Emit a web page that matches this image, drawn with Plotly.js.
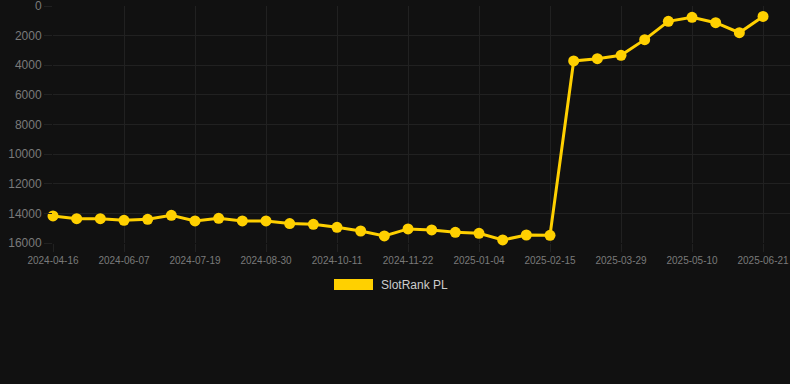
<!DOCTYPE html>
<html>
<head>
<meta charset="utf-8">
<script src="https://cdn.plot.ly/plotly-3.0.1.min.js"></script>
<style>
html,body{margin:0;padding:0;background:#111111;}
#chart{width:790px;height:384px;}
</style>
</head>
<body>
<div id="chart"></div>
<script>
const dates = [
  "2024-04-16","2024-05-03","2024-05-21","2024-06-07","2024-06-21","2024-07-05",
  "2024-07-19","2024-08-02","2024-08-16","2024-08-30","2024-09-13","2024-09-27",
  "2024-10-11","2024-10-25","2024-11-08","2024-11-22","2024-12-06","2024-12-20",
  "2025-01-04","2025-01-18","2025-02-01","2025-02-15","2025-03-01","2025-03-15",
  "2025-03-29","2025-04-12","2025-04-26","2025-05-10","2025-05-24","2025-06-07",
  "2025-06-21"
];
const ranks = [
  14175, 14355, 14355, 14470, 14400, 14130,
  14510, 14335, 14510, 14510, 14690, 14740,
  14940, 15190, 15525, 15050, 15120, 15280,
  15345, 15795, 15460, 15480, 3710, 3555,
  3330, 2270, 1035, 765, 1125, 1800,
  700
];
const tickDates = dates.filter((d, i) => i % 3 === 0);
const yTicks = [0, 2000, 4000, 6000, 8000, 10000, 12000, 14000, 16000];
const seriesName = "SlotRank PL";

const gridColor = "#212121";
const lineColor = "#FFD000";

const trace = {
  x: dates,
  y: ranks,
  type: "scatter",
  mode: "lines+markers",
  name: seriesName,
  line: {color: lineColor, width: 3},
  marker: {color: lineColor, size: 11},
  hoverinfo: "none",
  showlegend: false,
  cliponaxis: false
};

const layout = {
  width: 790,
  height: 384,
  paper_bgcolor: "#111111",
  plot_bgcolor: "#111111",
  margin: {l: 53, r: 0, t: 6, b: 141},
  font: {family: "Liberation Sans, Arial, sans-serif", color: "#7a7a7a"},
  xaxis: {
    type: "category",
    range: [0, 31.14],
    tickmode: "array",
    tickvals: tickDates,
    ticktext: tickDates,
    showgrid: true,
    gridcolor: gridColor,
    gridwidth: 1,
    zeroline: false,
    showline: false,
    ticks: "outside",
    ticklen: 8,
    tickcolor: gridColor,
    tickfont: {size: 10, color: "#7a7a7a"},
    ticklabeloverflow: "allow",
    fixedrange: true
  },
  yaxis: {
    range: [16000, -2],
    tickmode: "array",
    tickvals: yTicks,
    ticktext: yTicks.map(String),
    showgrid: true,
    gridcolor: gridColor,
    gridwidth: 1,
    zeroline: false,
    showline: false,
    ticks: "outside",
    ticklen: 8,
    tickcolor: gridColor,
    tickfont: {size: 12, color: "#7a7a7a"},
    ticklabeloverflow: "allow",
    fixedrange: true
  },
  shapes: [{
    type: "rect", xref: "paper", yref: "paper",
    x0: (334 - 53) / 737, x1: (373 - 53) / 737,
    y0: (243 - 290) / 237, y1: (243 - 279) / 237,
    fillcolor: lineColor, line: {width: 0}
  }],
  annotations: [{
    text: seriesName, xref: "paper", yref: "paper",
    x: (379 - 53) / 737, y: (243 - 284.5) / 237,
    xanchor: "left", yanchor: "middle", showarrow: false,
    font: {size: 12, color: "#cccccc"}
  }]
};

Plotly.newPlot("chart", [trace], layout, {displayModeBar: false, staticPlot: true});
</script>
</body>
</html>
